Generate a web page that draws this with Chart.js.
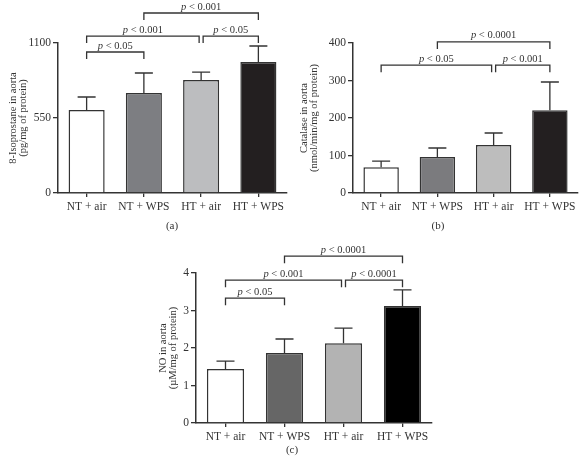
<!DOCTYPE html>
<html>
<head>
<meta charset="utf-8">
<script src="https://cdn.jsdelivr.net/npm/chart.js@4.4.0/dist/chart.umd.min.js"></script>
<style>
  body { margin: 0; background: #fff; }
  #page { position: relative; width: 582px; height: 463px; overflow: hidden; }
  .panel { position: absolute; width: 291px; height: 232px; }
  .cap { position: absolute; font: 11px "Liberation Serif", serif; color: #333; transform: translateX(-50%); }
</style>
</head>
<body>
<div id="page">
  <div class="panel" style="left:0;top:0"><canvas id="chartA"></canvas></div>
  <div class="panel" style="left:291px;top:0"><canvas id="chartB"></canvas></div>
  <div class="panel" style="left:145px;top:230px"><canvas id="chartC"></canvas></div>
  <div class="cap" style="left:172px;top:219px">(a)</div>
  <div class="cap" style="left:438px;top:219px">(b)</div>
  <div class="cap" style="left:292px;top:443px">(c)</div>
</div>
<script>
const groups = ['NT + air', 'NT + WPS', 'HT + air', 'HT + WPS'];

// (a) 8-isoprostane
const isoMean = [609, 733, 829, 961];
const isoErr = [95, 147, 58, 117];
const isoTicks = [0, 550, 1100];
const isoBrackets = [[0, 1, 1034, '0.05'], [0, 2, 1151, '0.001'], [2, 3, 1151, '0.05'], [1, 3, 1320, '0.001']];

// (b) catalase
const catMean = [69, 96, 128, 221];
const catErr = [16, 24, 32, 75];
const catTicks = [0, 100, 200, 300, 400];
const catBrackets = [[0, 2, 341, '0.05'], [2, 3, 341, '0.001'], [1, 3, 403, '0.0001']];

// (c) NO
const noMean = [1.44, 1.87, 2.13, 3.12];
const noErr = [0.21, 0.37, 0.40, 0.43];
const noTicks = [0, 1, 2, 3, 4];
const noBrackets = [[0, 1, 3.33, '0.05'], [0, 2, 3.81, '0.001'], [2, 3, 3.81, '0.0001'], [1, 3, 4.45, '0.0001']];

Chart.defaults.font.family = '"Liberation Serif", "Times New Roman", serif';
Chart.defaults.color = '#333';

const ink = '#333';

// error whiskers + significance brackets
const sigPlugin = {
  id: 'sig',
  afterDatasetsDraw(chart, args, opts) {
    const ctx = chart.ctx;
    const y = chart.scales.y;
    const meta = chart.getDatasetMeta(0);
    const vals = chart.data.datasets[0].data;
    ctx.save();
    ctx.strokeStyle = ink;
    ctx.lineWidth = 1.3;
    opts.errors.forEach((e, i) => {
      const bar = meta.data[i];
      const top = y.getPixelForValue(vals[i] + e);
      ctx.beginPath();
      ctx.moveTo(bar.x, bar.y);
      ctx.lineTo(bar.x, top);
      ctx.moveTo(bar.x - 9, top);
      ctx.lineTo(bar.x + 9, top);
      ctx.stroke();
    });

    opts.brackets.forEach((br) => {
      const [a, b, level, label] = br;
      const shared = (idx) => opts.brackets.some(o => o !== br && o[2] === level && (o[0] === idx || o[1] === idx));
      let x1 = meta.data[a].x, x2 = meta.data[b].x;
      if (shared(a)) x1 += 2;
      if (shared(b)) x2 -= 2;
      const yy = y.getPixelForValue(level);
      ctx.beginPath();
      ctx.moveTo(x1, yy + 7);
      ctx.lineTo(x1, yy);
      ctx.lineTo(x2, yy);
      ctx.lineTo(x2, yy + 7);
      ctx.stroke();

      const fam = Chart.defaults.font.family;
      ctx.fillStyle = ink;
      ctx.textBaseline = 'bottom';
      ctx.textAlign = 'left';
      ctx.font = 'italic 10.5px ' + fam;
      const wp = ctx.measureText('p').width;
      ctx.font = '10.5px ' + fam;
      const rest = ' < ' + label;
      const wr = ctx.measureText(rest).width;
      const sx = (x1 + x2) / 2 - (wp + wr) / 2;
      ctx.font = 'italic 10.5px ' + fam;
      ctx.fillText('p', sx, yy - 1);
      ctx.font = '10.5px ' + fam;
      ctx.fillText(rest, sx + wp, yy - 1);
    });
    ctx.restore();
  }
};

function makePanel(id, values, errors, ticks, brackets, colors, title, yWidth, titlePad) {
  new Chart(document.getElementById(id), {
    type: 'bar',
    data: {
      labels: groups,
      datasets: [{
        data: values,
        backgroundColor: colors,
        borderColor: ink,
        borderWidth: 1.5,
        barPercentage: 0.63,
        categoryPercentage: 1
      }]
    },
    options: {
      responsive: true,
      maintainAspectRatio: false,
      animation: false,
      layout: { padding: { top: 43, right: 4, bottom: 0, left: 0 } },
      plugins: {
        legend: { display: false },
        tooltip: { enabled: false },
        sig: { errors: errors, brackets: brackets }
      },
      scales: {
        x: {
          grid: { display: true, offset: false, drawOnChartArea: false, drawTicks: true, tickLength: 4, color: ink, lineWidth: 1.3 },
          border: { display: true, color: ink, width: 1.5 },
          ticks: { font: { size: 11.5 }, padding: 3, maxRotation: 0 },
          afterFit: (s) => { s.height = 39; }
        },
        y: {
          min: ticks[0],
          max: ticks[ticks.length - 1],
          afterBuildTicks: (s) => { s.ticks = ticks.map(v => ({ value: v })); },
          grid: { display: true, drawOnChartArea: false, drawTicks: true, tickLength: 5, color: ink, lineWidth: 1.3 },
          border: { display: true, color: ink, width: 1.5 },
          ticks: { font: { size: 11.5 }, padding: 2, callback: (v) => String(v) },
          title: { display: true, text: title, font: { size: 10.5, lineHeight: 0.9 }, padding: { top: titlePad, bottom: 0 } },
          afterFit: (s) => { s.width = yWidth; }
        }
      }
    },
    plugins: [sigPlugin]
  });
}

makePanel('chartA', isoMean, isoErr, isoTicks, isoBrackets,
  ['#ffffff', '#7d7e82', '#bcbdbf', '#231f20'],
  ['8-Isoprostane in aorta', '(pg/mg of protein)'], 58, 9);

makePanel('chartB', catMean, catErr, catTicks, catBrackets,
  ['#ffffff', '#7b7b7e', '#bdbdbd', '#231f20'],
  ['Catalase in aorta', '(nmol/min/mg of protein)'], 62, 9);

makePanel('chartC', noMean, noErr, noTicks, noBrackets,
  ['#ffffff', '#666666', '#b3b3b3', '#000000'],
  ['NO in aorta', '(\u00b5M/mg of protein)'], 51, 14);
</script>
</body>
</html>
